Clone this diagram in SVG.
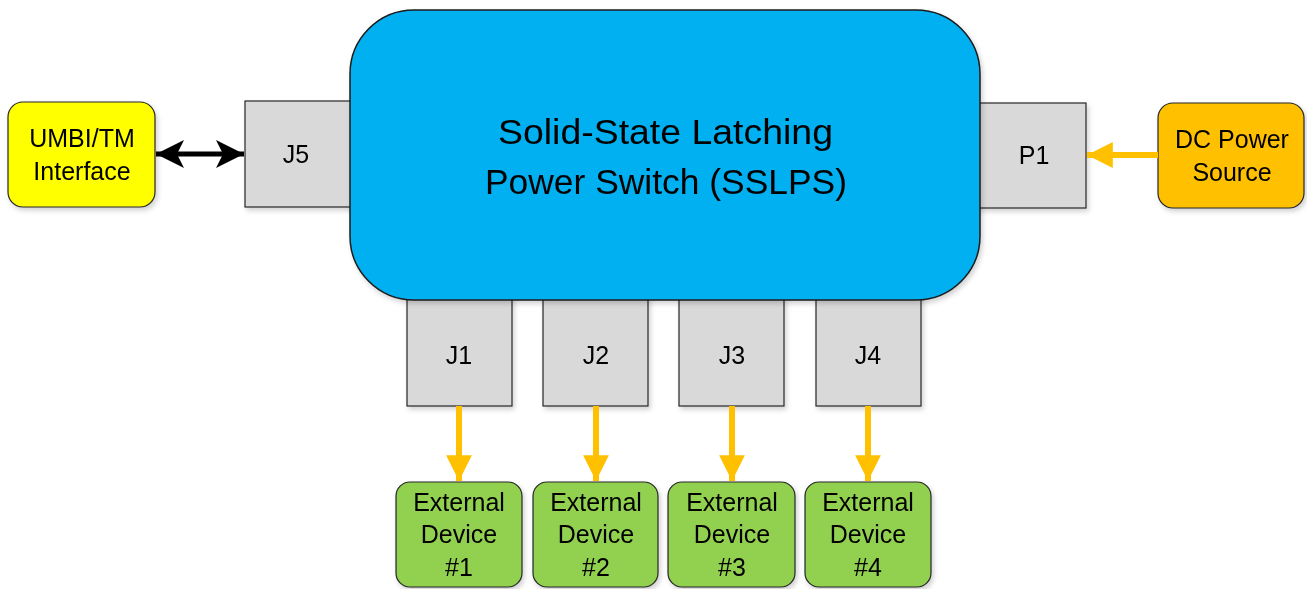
<svg xmlns="http://www.w3.org/2000/svg" width="1307" height="589" viewBox="0 0 1307 589">
<style>
text{font-family:"Liberation Sans",Arial,sans-serif;fill:#000;text-anchor:middle}
.port{fill:#d9d9d9;stroke:#262626;stroke-width:1.2}
.dev{fill:#92d050;stroke:#262626;stroke-width:1.2}
.sm{font-size:25px}
.pw{stroke:#ffc000;stroke-width:6;fill:none}
</style>
<defs>
<filter id="sh" x="-10%" y="-10%" width="125%" height="125%">
<feDropShadow dx="2" dy="3" stdDeviation="2.5" flood-color="#000" flood-opacity="0.18"/>
</filter>
<marker id="ah" viewBox="0 0 10 10" refX="10" refY="5" markerWidth="4.3" markerHeight="4.3" markerUnits="strokeWidth" orient="auto">
<path d="M0,0 L10,5 L0,10 z" fill="#ffc000"/>
</marker>
<marker id="bh" viewBox="0 0 10 10" refX="10" refY="5" markerWidth="5.6" markerHeight="5.6" markerUnits="strokeWidth" orient="auto-start-reverse">
<path d="M0,0 L10,5 L0,10 L2.5,5 z" fill="#000"/>
</marker>
</defs>

<g id="j5" filter="url(#sh)"><rect class="port" x="245" y="101" width="130" height="106"/><text class="sm" x="296" y="163">J5</text></g>
<g id="p1" filter="url(#sh)"><rect class="port" x="955" y="103" width="131" height="105"/><text class="sm" x="1034" y="164">P1</text></g>
<g id="j1" filter="url(#sh)"><rect class="port" x="407" y="280" width="105" height="126"/><text class="sm" x="459" y="364">J1</text></g>
<g id="j2" filter="url(#sh)"><rect class="port" x="543" y="280" width="105" height="126"/><text class="sm" x="596" y="364">J2</text></g>
<g id="j3" filter="url(#sh)"><rect class="port" x="679" y="280" width="105" height="126"/><text class="sm" x="732" y="364">J3</text></g>
<g id="j4" filter="url(#sh)"><rect class="port" x="816" y="280" width="105" height="126"/><text class="sm" x="868" y="364">J4</text></g>

<g id="sslps" filter="url(#sh)">
<rect x="350" y="10" width="630" height="290" rx="64" ry="64" fill="#00b0f0" stroke="#1a1a1a" stroke-width="1.5"/>
<text x="665.5" y="144" font-size="35" textLength="335" lengthAdjust="spacingAndGlyphs">Solid-State Latching</text>
<text x="666" y="194" font-size="35" textLength="362" lengthAdjust="spacingAndGlyphs">Power Switch (SSLPS)</text>
</g>

<g id="umbi" filter="url(#sh)"><rect x="8" y="102" width="147" height="105" rx="15" fill="#ffff00" stroke="#262626" stroke-width="1.2"/>
<text class="sm" x="82" y="147">UMBI/TM</text><text class="sm" x="82" y="180">Interface</text></g>
<g id="dc" filter="url(#sh)"><rect x="1158" y="103" width="146" height="105" rx="15" fill="#ffc000" stroke="#262626" stroke-width="1.2"/>
<text class="sm" x="1232" y="148">DC Power</text><text class="sm" x="1232" y="181">Source</text></g>

<g id="d1" filter="url(#sh)"><rect class="dev" x="396" y="482" width="126" height="105" rx="14"/><text class="sm" x="459" y="511">External</text><text class="sm" x="459" y="543">Device</text><text class="sm" x="459" y="576">#1</text></g>
<g id="d2" filter="url(#sh)"><rect class="dev" x="533" y="482" width="125" height="105" rx="14"/><text class="sm" x="596" y="511">External</text><text class="sm" x="596" y="543">Device</text><text class="sm" x="596" y="576">#2</text></g>
<g id="d3" filter="url(#sh)"><rect class="dev" x="668" y="482" width="127" height="105" rx="14"/><text class="sm" x="732" y="511">External</text><text class="sm" x="732" y="543">Device</text><text class="sm" x="732" y="576">#3</text></g>
<g id="d4" filter="url(#sh)"><rect class="dev" x="805" y="482" width="126" height="105" rx="14"/><text class="sm" x="868" y="511">External</text><text class="sm" x="868" y="543">Device</text><text class="sm" x="868" y="576">#4</text></g>

<g id="connectors">
<line x1="156" y1="154" x2="244" y2="154" stroke="#000" stroke-width="5" marker-start="url(#bh)" marker-end="url(#bh)"/>
<line class="pw" x1="1158" y1="155" x2="1087" y2="155" stroke-width="5.5" marker-end="url(#ah)"/>
<line class="pw" x1="459" y1="406" x2="459" y2="481" marker-end="url(#ah)"/>
<line class="pw" x1="596" y1="406" x2="596" y2="481" marker-end="url(#ah)"/>
<line class="pw" x1="732" y1="406" x2="732" y2="481" marker-end="url(#ah)"/>
<line class="pw" x1="868" y1="406" x2="868" y2="481" marker-end="url(#ah)"/>
</g>
</svg>
